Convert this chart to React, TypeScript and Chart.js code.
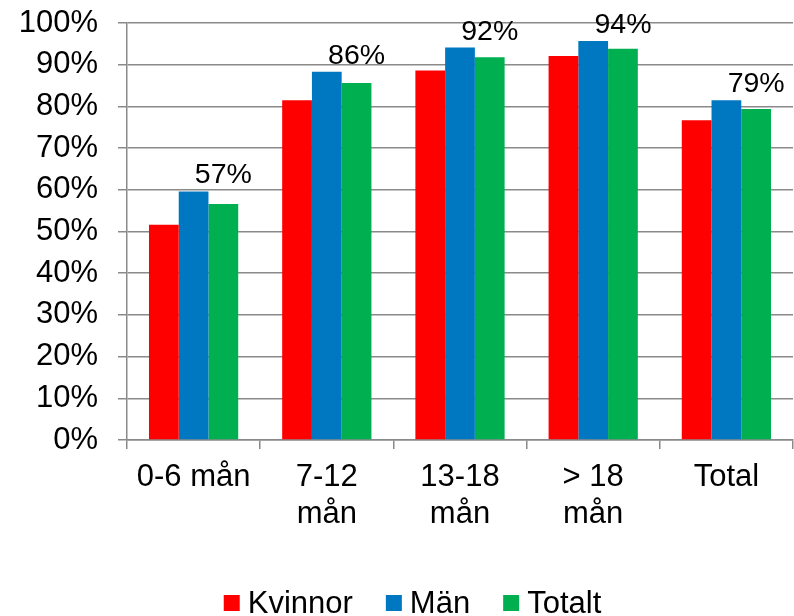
import React, { useEffect, useRef } from 'react';
import { Chart, registerables } from 'chart.js';

Chart.register(...registerables);

const categories: (string | string[])[] = ['0-6 mån', ['7-12', 'mån'], ['13-18', 'mån'], ['> 18', 'mån'], 'Total'];
const kvinnor = [51.6, 81.5, 88.6, 92.1, 76.7];
const man = [59.6, 88.3, 94.1, 95.7, 81.5];
const totalt = [56.6, 85.6, 91.8, 93.8, 79.4];
const seriesNames = ['Kvinnor', 'Män', 'Totalt'];
const seriesColors = ['#ff0000', '#0078c1', '#00b050'];
const yMin = 0;
const yMax = 100;
const yStep = 10;

const FONT = '"Liberation Sans", Arial, sans-serif';
const GRID = '#8a8a8a';

const totalLabelPlugin = {
  id: 'totalLabels',
  afterDatasetsDraw(chart: any) {
    const ctx = chart.ctx;
    const totMeta = chart.getDatasetMeta(2);
    const manMeta = chart.getDatasetMeta(1);
    ctx.save();
    ctx.font = `28.5px ${FONT}`;
    ctx.fillStyle = '#000';
    ctx.textAlign = 'center';
    ctx.textBaseline = 'alphabetic';
    totMeta.data.forEach((el: any, i: number) => {
      const top = Math.min(manMeta.data[i].y, el.y);
      ctx.fillText(Math.round(totalt[i]) + '%', el.x, top - 8);
    });
    ctx.restore();
  },
};

const customLegendPlugin = {
  id: 'customLegend',
  afterDraw(chart: any) {
    const ctx = chart.ctx;
    const box = 16;
    const gapText = 8;
    const gapItem = 33;
    const cy = 603;
    const centerX = 412.5;
    ctx.save();
    ctx.font = `31px ${FONT}`;
    const items = chart.data.datasets.map((ds: any) => ({
      text: ds.label,
      color: ds.backgroundColor,
      w: ctx.measureText(ds.label).width,
    }));
    const total =
      items.reduce((s: number, it: any) => s + box + gapText + it.w, 0) + gapItem * (items.length - 1);
    let x = centerX - total / 2;
    ctx.textBaseline = 'middle';
    ctx.textAlign = 'left';
    items.forEach((it: any) => {
      ctx.fillStyle = it.color;
      ctx.fillRect(x, cy - box / 2, box, box);
      ctx.fillStyle = '#000';
      ctx.fillText(it.text, x + box + gapText, cy + 1);
      x += box + gapText + it.w + gapItem;
    });
    ctx.restore();
  },
};

export default function App() {
  const ref = useRef<HTMLCanvasElement | null>(null);

  useEffect(() => {
    if (!ref.current) return;
    const data = [kvinnor, man, totalt];
    const chart = new Chart(ref.current, {
      type: 'bar',
      data: {
        labels: categories as any,
        datasets: seriesNames.map((name, i) => ({
          label: name,
          data: data[i],
          backgroundColor: seriesColors[i],
          borderWidth: 0,
          categoryPercentage: 0.67,
          barPercentage: 1,
        })),
      },
      options: {
        responsive: false,
        animation: false,
        devicePixelRatio: 1,
        layout: { padding: { left: 0, right: 1, top: 23, bottom: 65 } },
        plugins: {
          tooltip: { enabled: false },
          title: { display: false },
          legend: { display: false },
        },
        scales: {
          x: {
            grid: {
              offset: true,
              drawOnChartArea: false,
              drawTicks: true,
              tickLength: 9,
              color: GRID,
              lineWidth: 1.5,
            },
            border: { color: GRID, width: 1.5 },
            ticks: {
              autoSkip: false,
              maxRotation: 0,
              minRotation: 0,
              padding: 10,
              color: '#000',
              font: { family: FONT, size: 31, lineHeight: 1.2 },
            },
            afterFit: (s: any) => {
              s.height = 111;
              s.paddingLeft = 0;
              s.paddingRight = 0;
            },
          },
          y: {
            min: yMin,
            max: yMax,
            grid: {
              color: GRID,
              lineWidth: 1.5,
              drawTicks: true,
              tickLength: 9,
            },
            border: { color: GRID, width: 1.5 },
            ticks: {
              stepSize: yStep,
              autoSkip: false,
              padding: 20,
              color: '#000',
              font: { family: FONT, size: 31 },
              callback: (v: any) => v + '%',
            },
            afterFit: (s: any) => {
              s.width = 127;
              s.paddingTop = 0;
              s.paddingBottom = 0;
            },
          },
        },
      },
      plugins: [totalLabelPlugin, customLegendPlugin],
    });
    return () => chart.destroy();
  }, []);

  return (
    <div style={{ position: 'absolute', left: 0, top: 0, width: 794, height: 616, overflow: 'hidden', background: '#fff' }}>
      <canvas ref={ref} width={794} height={616} style={{ display: 'block', width: 794, height: 616 }} />
    </div>
  );
}
